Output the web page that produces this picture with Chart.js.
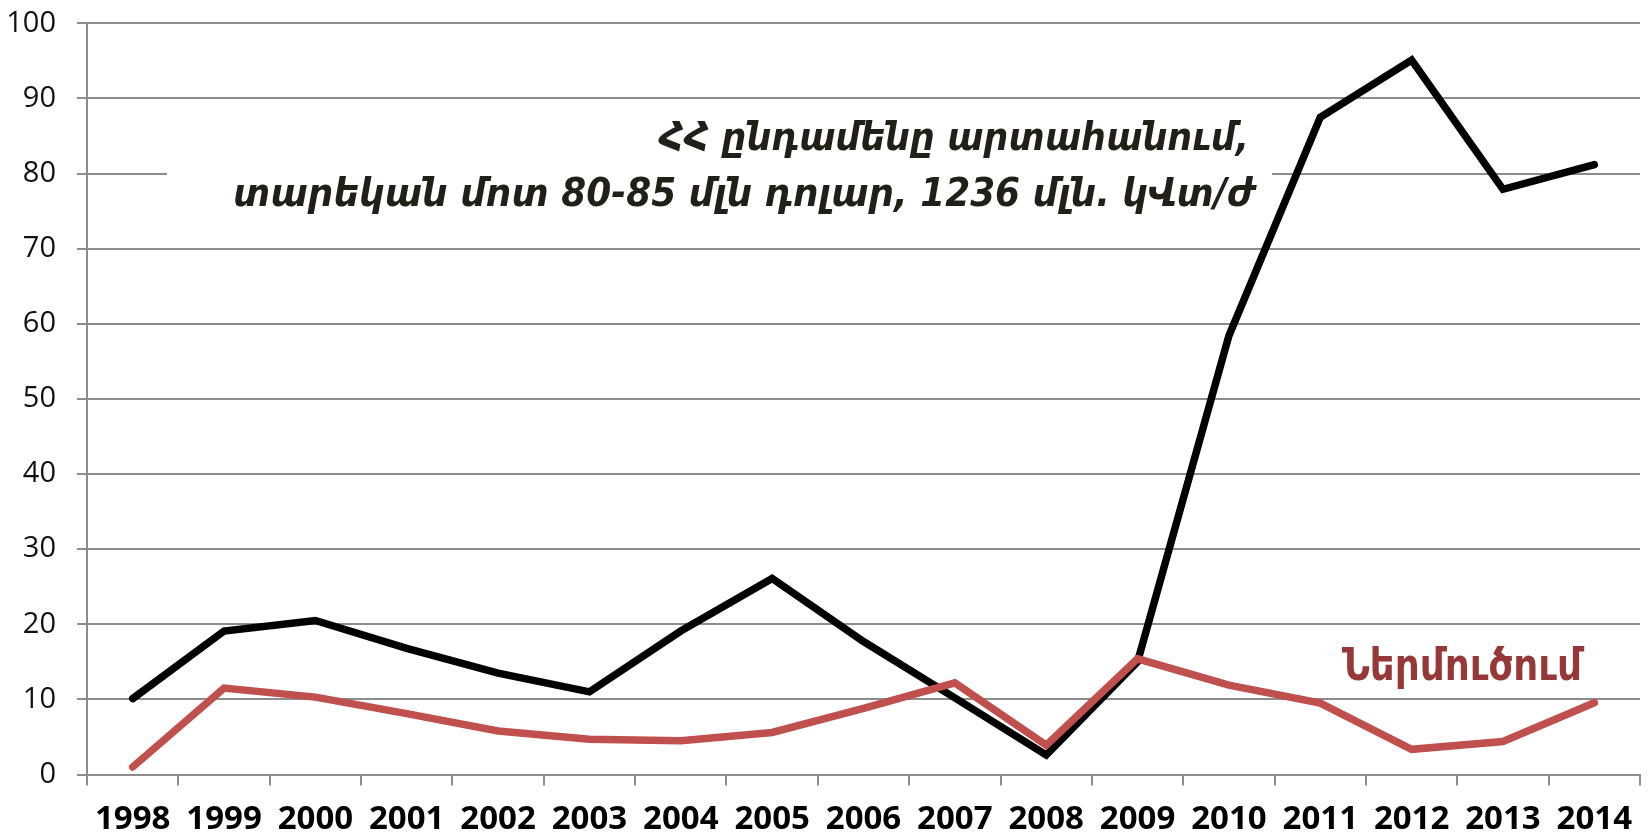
<!DOCTYPE html>
<html>
<head>
<meta charset="utf-8">
<script src="https://cdn.jsdelivr.net/npm/chart.js@4/dist/chart.umd.min.js"></script>
<style>
html,body{margin:0;padding:0;background:#fff;}
#wrap{width:1648px;height:836px;position:relative;}
</style>
</head>
<body>
<div id="wrap"><canvas id="c" width="1648" height="836"></canvas></div>
<script>
const years = ['1998','1999','2000','2001','2002','2003','2004','2005','2006','2007','2008','2009','2010','2011','2012','2013','2014'];
const exportsTotal = [10.1, 19.1, 20.5, 16.8, 13.5, 11.0, 19.1, 26.1, 17.7, 10.2, 2.6, 15.0, 58.4, 87.5, 95.1, 77.9, 81.2];
const importsVals = [1.0, 11.5, 10.3, 8.1, 5.8, 4.7, 4.5, 5.6, 8.8, 12.2, 3.9, 15.4, 11.9, 9.5, 3.35, 4.4, 9.55];
const annotationLines = ['ՀՀ ընդամենը արտահանում,', 'տարեկան մոտ 80-85 մլն դոլար, 1236 մլն. կՎտ/ժ'];
const importLabel = 'Ներմուծում';

const gridColor = '#8c8c8c';

const textPlugin = {
  id: 'texts',
  beforeDatasetsDraw(chart) {
    const ctx = chart.ctx;
    ctx.save();
    ctx.fillStyle = '#ffffff';
    ctx.fillRect(167, 110, 1272 - 167, 125);
    ctx.restore();
  },
  afterDatasetsDraw(chart) {
    const ctx = chart.ctx;
    ctx.save();
    ctx.fillStyle = '#211f18';
    ctx.font = 'italic bold 39px "DejaVu Sans Condensed", "DejaVu Sans", sans-serif';
    ctx.textAlign = 'right';
    ctx.textBaseline = 'alphabetic';
    const targets = [{w: 1249 - 659, x: 1249, y: 150}, {w: 1255 - 233, x: 1255, y: 206}];
    annotationLines.forEach((t, i) => {
      const m = ctx.measureText(t).width;
      const s = targets[i].w / m;
      ctx.save();
      ctx.translate(targets[i].x, targets[i].y);
      ctx.scale(s, 1);
      ctx.fillText(t, 0, 0);
      ctx.restore();
    });
    ctx.fillStyle = '#973838';
    ctx.font = 'bold 44px "DejaVu Sans Condensed", "DejaVu Sans", sans-serif';
    ctx.textAlign = 'center';
    const m2 = ctx.measureText(importLabel).width;
    const s2 = 240 / m2;
    ctx.translate(1462, 680);
    ctx.scale(s2, 1);
    ctx.fillText(importLabel, 0, 0);
    ctx.restore();
  }
};

new Chart(document.getElementById('c'), {
  type: 'line',
  data: {
    labels: years,
    datasets: [
      {
        label: 'Ներմուծում',
        data: importsVals,
        borderColor: '#c0504d',
        borderWidth: 7.5,
        pointRadius: 0,
        borderCapStyle: 'round',
        borderJoinStyle: 'miter',
        tension: 0,
        fill: false
      },
      {
        label: 'Արտահանում',
        data: exportsTotal,
        borderColor: '#000000',
        borderWidth: 7.5,
        pointRadius: 0,
        borderCapStyle: 'round',
        borderJoinStyle: 'miter',
        tension: 0,
        fill: false
      }
    ]
  },
  options: {
    responsive: false,
    animation: false,
    devicePixelRatio: 1,
    layout: { padding: { top: 23.3, right: 8, left: 0, bottom: 0 } },
    plugins: { legend: { display: false }, tooltip: { enabled: false } },
    scales: {
      x: {
        offset: true,
        grid: { offset: true, drawOnChartArea: false, drawTicks: true, tickLength: 11, color: gridColor, lineWidth: 2 },
        border: { display: true, color: gridColor, width: 2 },
        ticks: { color: '#000', font: { family: '"Open Sans", sans-serif', size: 33, weight: 'bold' }, padding: 14, maxRotation: 0, autoSkip: false },
        afterFit(scale) { scale.height = 61.5; scale.paddingLeft = 0; scale.paddingRight = 0; }
      },
      y: {
        min: 0, max: 100,
        grid: { color: gridColor, lineWidth: 2, tickLength: 10, drawTicks: true },
        border: { display: true, color: gridColor, width: 2 },
        ticks: { stepSize: 10, color: '#111', font: { family: '"Open Sans", sans-serif', size: 29 }, padding: 21 },
        afterFit(scale) { scale.width = 87; scale.paddingTop = 0; scale.paddingBottom = 0; }
      }
    }
  },
  plugins: [textPlugin]
});
</script>
</body>
</html>
